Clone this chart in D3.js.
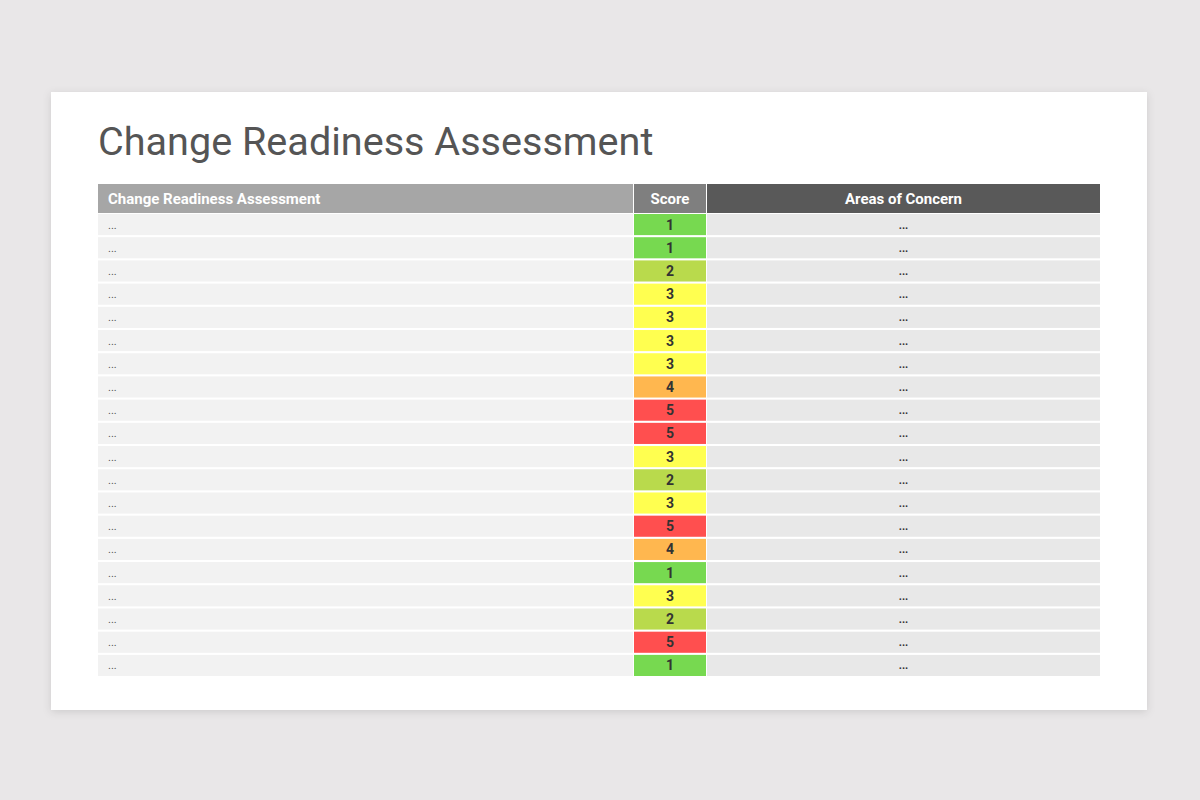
<!DOCTYPE html>
<html>
<head>
<meta charset="utf-8">
<script src="https://cdn.jsdelivr.net/npm/d3@7"></script>
<style>
  body { margin: 0; background: #e9e7e8; }
  svg { display: block; }
</style>
</head>
<body>
<div id="chart"></div>
<script>
const title = "Change Readiness Assessment";
const columns = ["Change Readiness Assessment", "Score", "Areas of Concern"];
const scores = [1, 1, 2, 3, 3, 3, 3, 4, 5, 5, 3, 2, 3, 5, 4, 1, 3, 2, 5, 1];
const assessments = scores.map(() => "...");
const concerns = scores.map(() => "...");
const scoreLevels = [1, 2, 3, 4, 5];
const scoreColors = ["#77d950", "#b9da4c", "#ffff50", "#ffb74f", "#ff4f4f"];

const width = 1200, height = 800;
const card = {x: 51, y: 92, w: 1096, h: 618};
const table = {left: 98, right: 1100, top: 184, headH: 29, bottom: 676};

var color = d3.scaleOrdinal().domain(scoreLevels).range(scoreColors);

var svg = d3.select("#chart").append("svg")
    .attr("width", width)
    .attr("height", height);

// card with soft shadow
var defs = svg.append("defs");
var f = defs.append("filter").attr("id", "shadow").attr("x", "-5%").attr("y", "-5%").attr("width", "110%").attr("height", "115%");
f.append("feDropShadow").attr("dx", 0).attr("dy", 2).attr("stdDeviation", 4).attr("flood-color", "#000").attr("flood-opacity", 0.12);

svg.append("rect")
    .attr("x", card.x).attr("y", card.y)
    .attr("width", card.w).attr("height", card.h)
    .attr("fill", "#fff")
    .attr("filter", "url(#shadow)");

svg.append("text")
    .attr("x", 98).attr("y", 155)
    .attr("font-family", "Roboto, sans-serif")
    .attr("font-size", 39.6)
    .attr("fill", "#555")
    .text(title);

// columns
var x = d3.scaleOrdinal().domain(columns).range([table.left, 634, 707]);
var colW = {};
colW[columns[0]] = 535; colW[columns[1]] = 72; colW[columns[2]] = table.right - 707;
var headFill = {};
headFill[columns[0]] = "#a6a6a6"; headFill[columns[1]] = "#7f7f7f"; headFill[columns[2]] = "#595959";

var head = svg.append("g");
head.selectAll("rect").data(columns).enter().append("rect")
    .attr("x", d => x(d))
    .attr("y", table.top)
    .attr("width", d => colW[d])
    .attr("height", table.headH)
    .attr("fill", d => headFill[d]);

head.selectAll("text").data(columns).enter().append("text")
    .attr("x", (d, i) => i == 0 ? x(d) + 10 : x(d) + colW[d] / 2)
    .attr("y", table.top + table.headH / 2 + 5)
    .attr("text-anchor", (d, i) => i == 0 ? "start" : "middle")
    .attr("font-family", "Roboto, sans-serif")
    .attr("font-weight", "bold")
    .attr("font-size", 15)
    .attr("fill", "#fff")
    .text(d => d);

// rows
var y = d3.scaleBand()
    .domain(d3.range(scores.length))
    .range([table.top + table.headH + 1, table.bottom])
    .paddingInner(0.09);

var rows = svg.selectAll(".row").data(scores).enter().append("g")
    .attr("class", "row")
    .attr("transform", (d, i) => `translate(0,${y(i)})`);

rows.append("rect")
    .attr("x", x(columns[0]))
    .attr("width", colW[columns[0]])
    .attr("height", y.bandwidth())
    .attr("fill", "#f2f2f2");

rows.append("rect")
    .attr("x", x(columns[1]))
    .attr("width", colW[columns[1]])
    .attr("height", y.bandwidth())
    .attr("fill", d => color(d));

rows.append("rect")
    .attr("x", x(columns[2]))
    .attr("width", colW[columns[2]])
    .attr("height", y.bandwidth())
    .attr("fill", "#e8e8e8");

rows.append("text")
    .attr("x", x(columns[0]) + 10)
    .attr("y", y.bandwidth() / 2 + 4)
    .attr("font-family", "Roboto, sans-serif")
    .attr("font-size", 11)
    .attr("fill", "#555")
    .text((d, i) => assessments[i]);

rows.append("text")
    .attr("x", x(columns[1]) + colW[columns[1]] / 2)
    .attr("y", y.bandwidth() / 2 + 5)
    .attr("text-anchor", "middle")
    .attr("font-family", "Roboto, sans-serif")
    .attr("font-weight", "bold")
    .attr("font-size", 14)
    .attr("fill", "#333")
    .text(d => d);

rows.append("text")
    .attr("x", x(columns[2]) + colW[columns[2]] / 2)
    .attr("y", y.bandwidth() / 2 + 4)
    .attr("text-anchor", "middle")
    .attr("font-family", "Roboto, sans-serif")
    .attr("font-weight", "bold")
    .attr("font-size", 11)
    .attr("fill", "#333")
    .text((d, i) => concerns[i]);
</script>
</body>
</html>
